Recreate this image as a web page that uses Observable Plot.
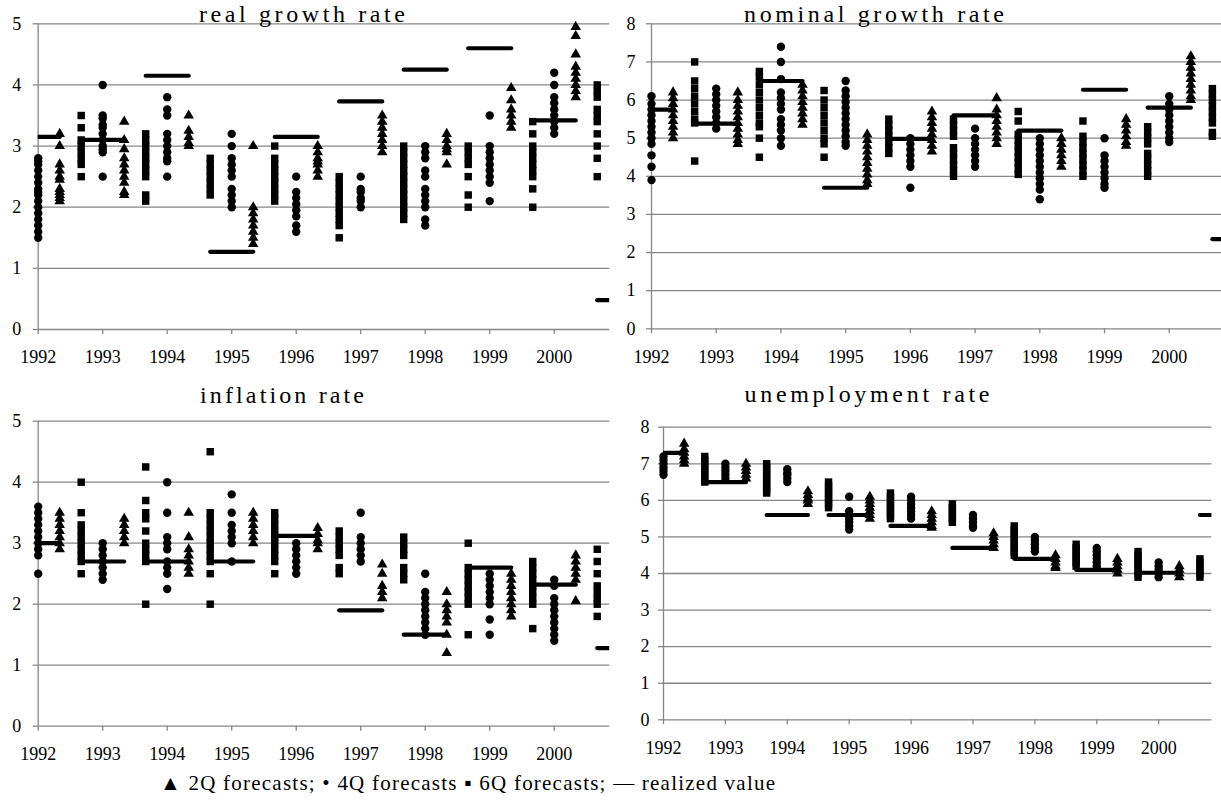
<!DOCTYPE html>
<html><head><meta charset="utf-8">
<script src="https://cdn.jsdelivr.net/npm/d3@7"></script>
<script src="https://cdn.jsdelivr.net/npm/@observablehq/plot@0.6"></script>
<style>
html,body{margin:0;padding:0;background:#fff;overflow:hidden;font-family:'Liberation Serif',serif}
#wrap{position:relative;width:1221px;height:800px;overflow:hidden;background:#fff}
.panel{position:absolute}
#overlay{position:absolute;left:0;top:0;pointer-events:none}
svg text{font-family:'Liberation Serif',serif !important}
</style></head>
<body><div id="wrap"></div>
<script>
// ---------------- DATA ----------------
const targetYears = [1992, 1993, 1994, 1995, 1996, 1997, 1998, 1999, 2000, 2001];
const tickYears = [1992, 1993, 1994, 1995, 1996, 1997, 1998, 1999, 2000];
const legendText = "▲ 2Q forecasts; • 4Q forecasts ▪ 6Q forecasts; — realized value";

// real growth rate
const real6Q = [[],
  [3.5, 3.3, 3.1, 3.0, 2.9, 2.8, 2.7, 2.5],
  [3.2, 3.1, 3.0, 2.9, 2.8, 2.7, 2.6, 2.5, 2.2, 2.1],
  [2.8, 2.7, 2.6, 2.5, 2.4, 2.3, 2.2],
  [3.0, 2.8, 2.7, 2.6, 2.5, 2.4, 2.3, 2.2, 2.1],
  [2.5, 2.4, 2.3, 2.2, 2.1, 2.0, 1.9, 1.8, 1.7, 1.5],
  [3.0, 2.9, 2.8, 2.7, 2.6, 2.5, 2.4, 2.3, 2.2, 2.1, 2.0, 1.9, 1.8],
  [3.0, 2.9, 2.8, 2.7, 2.5, 2.2, 2.0],
  [3.4, 3.2, 3.0, 2.9, 2.8, 2.7, 2.6, 2.5, 2.3, 2.0],
  [4.0, 3.9, 3.8, 3.6, 3.5, 3.4, 3.2, 3.0, 2.8, 2.5]];
const real4Q = [
  [2.8, 2.75, 2.7, 2.6, 2.5, 2.4, 2.3, 2.25, 2.2, 2.1, 2.0, 1.9, 1.8, 1.7, 1.6, 1.5],
  [4.0, 3.5, 3.45, 3.35, 3.3, 3.2, 3.1, 3.0, 2.95, 2.9, 2.5],
  [3.8, 3.6, 3.5, 3.2, 3.1, 3.0, 2.9, 2.8, 2.75, 2.5],
  [3.2, 3.0, 2.8, 2.7, 2.6, 2.5, 2.3, 2.2, 2.1, 2.0],
  [2.5, 2.25, 2.15, 2.05, 1.95, 1.85, 1.7, 1.6],
  [2.5, 2.3, 2.25, 2.15, 2.1, 2.0],
  [3.0, 2.9, 2.8, 2.6, 2.5, 2.3, 2.2, 2.1, 2.0, 1.8, 1.7],
  [3.5, 3.0, 2.9, 2.8, 2.7, 2.6, 2.5, 2.4, 2.1],
  [4.2, 4.0, 3.8, 3.7, 3.6, 3.5, 3.4, 3.3, 3.2],
  []];
const real2Q = [
  [3.2, 3.0, 2.7, 2.6, 2.5, 2.45, 2.3, 2.25, 2.2, 2.15, 2.1],
  [3.4, 3.1, 2.95, 2.8, 2.7, 2.6, 2.5, 2.4, 2.25, 2.2],
  [3.5, 3.25, 3.15, 3.05, 3.0],
  [3.0, 2.0, 1.9, 1.8, 1.7, 1.6, 1.5, 1.4],
  [3.0, 2.9, 2.8, 2.75, 2.7, 2.6, 2.5],
  [3.5, 3.4, 3.3, 3.2, 3.1, 3.0, 2.9],
  [3.2, 3.1, 3.0, 2.95, 2.9, 2.7],
  [3.95, 3.75, 3.6, 3.5, 3.4, 3.3],
  [4.95, 4.8, 4.5, 4.3, 4.2, 4.1, 4.0, 3.9, 3.8],
  []];
const realRealized = [3.15, 3.1, 4.15, 1.27, 3.15, 3.73, 4.25, 4.6, 3.42, 0.48];

// nominal growth rate
const nom6Q = [[],
  [7.0, 6.5, 6.3, 6.1, 5.9, 5.7, 5.5, 5.4, 4.4],
  [6.75, 6.6, 6.4, 6.2, 6.0, 5.8, 5.6, 5.4, 5.3, 5.0, 4.5],
  [6.25, 6.0, 5.8, 5.6, 5.4, 5.2, 5.0, 4.85, 4.5],
  [5.5, 5.35, 5.2, 5.05, 4.9, 4.75, 4.6],
  [5.5, 5.35, 5.2, 5.05, 4.75, 4.6, 4.45, 4.3, 4.15, 4.0],
  [5.7, 5.45, 5.1, 4.95, 4.8, 4.65, 4.5, 4.35, 4.2, 4.05],
  [5.45, 5.05, 4.9, 4.75, 4.6, 4.45, 4.3, 4.15, 4.0],
  [5.3, 5.15, 5.0, 4.85, 4.6, 4.45, 4.3, 4.15, 4.0],
  [6.3, 6.15, 6.0, 5.85, 5.7, 5.55, 5.4, 5.15, 5.05]];
const nom4Q = [
  [6.1, 5.9, 5.75, 5.6, 5.45, 5.3, 5.15, 5.0, 4.85, 4.55, 4.25, 3.9],
  [6.3, 6.15, 6.0, 5.85, 5.7, 5.55, 5.4, 5.25],
  [7.4, 7.0, 6.55, 6.2, 6.05, 5.9, 5.75, 5.5, 5.35, 5.2, 5.0, 4.8],
  [6.5, 6.25, 6.1, 5.95, 5.8, 5.65, 5.5, 5.35, 5.2, 5.05, 4.9, 4.8],
  [5.0, 4.85, 4.7, 4.55, 4.4, 4.25, 3.7],
  [5.25, 5.0, 4.85, 4.7, 4.55, 4.4, 4.25],
  [5.0, 4.85, 4.7, 4.55, 4.4, 4.25, 4.1, 3.95, 3.8, 3.65, 3.4],
  [5.0, 4.55, 4.4, 4.25, 4.1, 3.95, 3.8, 3.7],
  [6.1, 5.9, 5.75, 5.6, 5.45, 5.3, 5.15, 5.0, 4.9],
  []];
const nom2Q = [
  [6.2, 6.05, 5.9, 5.75, 5.6, 5.45, 5.3, 5.15, 5.0],
  [6.2, 6.0, 5.85, 5.7, 5.55, 5.4, 5.25, 5.1, 4.95, 4.85],
  [6.4, 6.25, 6.1, 5.95, 5.8, 5.65, 5.5, 5.35],
  [5.1, 4.95, 4.8, 4.65, 4.5, 4.35, 4.2, 4.05, 3.9, 3.8],
  [5.7, 5.55, 5.4, 5.25, 5.1, 4.95, 4.8, 4.65],
  [6.05, 5.75, 5.6, 5.45, 5.3, 5.15, 5.0, 4.85],
  [5.0, 4.85, 4.7, 4.55, 4.4, 4.25],
  [5.5, 5.35, 5.2, 5.05, 4.9, 4.8],
  [7.15, 7.0, 6.85, 6.7, 6.55, 6.4, 6.25, 6.1, 6.0],
  []];
const nomRealized = [5.75, 5.38, 6.5, 3.7, 4.98, 5.6, 5.2, 6.27, 5.8, 2.35];

// inflation rate
const inf6Q = [[],
  [4.0, 3.5, 3.3, 3.2, 3.1, 3.0, 2.9, 2.8, 2.7, 2.5],
  [4.25, 3.7, 3.5, 3.4, 3.2, 3.0, 2.9, 2.8, 2.7, 2.0],
  [4.5, 3.5, 3.4, 3.3, 3.2, 3.1, 3.0, 2.9, 2.8, 2.7, 2.5, 2.0],
  [3.5, 3.4, 3.3, 3.2, 3.1, 3.0, 2.9, 2.8, 2.7, 2.5],
  [3.2, 3.1, 3.0, 2.9, 2.8, 2.6, 2.5],
  [3.1, 3.0, 2.9, 2.8, 2.6, 2.5, 2.4],
  [3.0, 2.6, 2.5, 2.4, 2.3, 2.2, 2.1, 2.0, 1.5],
  [2.7, 2.6, 2.5, 2.4, 2.3, 2.2, 2.1, 2.0, 1.6],
  [2.9, 2.7, 2.5, 2.3, 2.2, 2.1, 2.0, 1.8]];
const inf4Q = [
  [3.6, 3.5, 3.4, 3.3, 3.2, 3.1, 3.0, 2.9, 2.8, 2.5],
  [3.0, 2.9, 2.8, 2.7, 2.6, 2.5, 2.4],
  [4.0, 3.5, 3.1, 3.0, 2.9, 2.7, 2.6, 2.5, 2.25],
  [3.8, 3.5, 3.3, 3.2, 3.1, 3.0, 2.7],
  [3.0, 2.9, 2.8, 2.7, 2.6, 2.5],
  [3.5, 3.1, 3.0, 2.9, 2.8, 2.7],
  [2.5, 2.2, 2.1, 2.0, 1.9, 1.8, 1.7, 1.6, 1.5],
  [2.5, 2.4, 2.3, 2.2, 2.1, 2.0, 1.75, 1.5],
  [2.4, 2.3, 2.1, 2.0, 1.9, 1.8, 1.7, 1.6, 1.5, 1.4],
  []];
const inf2Q = [
  [3.5, 3.4, 3.3, 3.2, 3.1, 3.0, 2.9],
  [3.4, 3.3, 3.2, 3.1, 3.0],
  [3.5, 3.1, 2.9, 2.8, 2.7, 2.6, 2.5],
  [3.5, 3.4, 3.3, 3.2, 3.1, 3.0],
  [3.25, 3.15, 3.05, 3.0, 2.9],
  [2.65, 2.5, 2.3, 2.2, 2.1],
  [2.2, 2.0, 1.9, 1.8, 1.7, 1.5, 1.2],
  [2.5, 2.4, 2.3, 2.2, 2.1, 2.0, 1.9, 1.8],
  [2.8, 2.7, 2.6, 2.5, 2.4, 2.05],
  []];
const infRealized = [3.0, 2.7, 2.7, 2.7, 3.12, 1.9, 1.5, 2.6, 2.32, 1.28];

// unemployment rate
const un6Q = [[],
  [7.2, 7.1, 7.0, 6.9, 6.8, 6.7, 6.6, 6.5],
  [7.0, 6.9, 6.8, 6.7, 6.6, 6.5, 6.4, 6.3, 6.2],
  [6.5, 6.4, 6.3, 6.2, 6.1, 6.0, 5.9, 5.8],
  [6.2, 6.1, 6.0, 5.9, 5.8, 5.7, 5.6, 5.5],
  [5.9, 5.8, 5.7, 5.6, 5.5, 5.4],
  [5.3, 5.2, 5.1, 5.0, 4.9, 4.8, 4.7, 4.6, 4.5],
  [4.8, 4.7, 4.6, 4.5, 4.4, 4.3, 4.2],
  [4.6, 4.5, 4.4, 4.3, 4.2, 4.1, 4.0, 3.9],
  [4.4, 4.3, 4.2, 4.1, 4.0, 3.9]];
const un4Q = [
  [7.2, 7.1, 7.0, 6.9, 6.8, 6.7],
  [7.0, 6.9, 6.8, 6.7, 6.6],
  [6.85, 6.75, 6.7, 6.6, 6.5],
  [6.1, 5.7, 5.6, 5.5, 5.4, 5.3, 5.2],
  [6.1, 6.0, 5.9, 5.8, 5.7, 5.6, 5.5],
  [5.6, 5.5, 5.4, 5.3, 5.25],
  [5.0, 4.9, 4.8, 4.7, 4.6],
  [4.7, 4.6, 4.5, 4.4, 4.3, 4.2],
  [4.3, 4.2, 4.1, 4.0, 3.9],
  []];
const un2Q = [
  [7.55, 7.4, 7.3, 7.2, 7.1, 7.0],
  [7.0, 6.9, 6.8, 6.7, 6.6],
  [6.25, 6.15, 6.05, 6.0, 5.9],
  [6.1, 6.0, 5.9, 5.8, 5.7, 5.6, 5.5],
  [5.7, 5.6, 5.5, 5.4, 5.3, 5.25],
  [5.1, 5.0, 4.9, 4.8, 4.7],
  [4.5, 4.4, 4.3, 4.2, 4.15],
  [4.4, 4.3, 4.2, 4.1, 4.0],
  [4.2, 4.1, 4.0, 3.9],
  []];
const unRealized = [7.3, 6.5, 5.6, 5.6, 5.3, 4.7, 4.4, 4.1, 4.02, 5.6];

// ---------------- LAYOUT ----------------
const FONT = "Liberation Serif";
const GRID = "#868686";
const X_MAX = 2000.86;
const OFF = 1 / 3; // 6Q forecasts sit a third of a year before, 2Q a third after
const panels = [
  {title: "real growth rate", six: real6Q, four: real4Q, two: real2Q, realized: realRealized, yMax: 5,
   left: 0, top: 0, width: 610, height: 380, mL: 37.7, mR: 0.8, mT: 23.3, mB: 51, pad: 12,
   tx: 302, ty: 21.5, tw: 206},
  {title: "nominal growth rate", six: nom6Q, four: nom4Q, two: nom2Q, realized: nomRealized, yMax: 8,
   left: 610, top: 0, width: 615, height: 380, mL: 41, mR: 0.6, mT: 23.3, mB: 51.7, pad: 11,
   tx: 874, ty: 21.5, tw: 260},
  {title: "inflation rate", six: inf6Q, four: inf4Q, two: inf2Q, realized: infRealized, yMax: 5,
   left: 0, top: 380, width: 610, height: 400, mL: 37.7, mR: 0.8, mT: 40.7, mB: 54.3, pad: 12,
   tx: 282, ty: 403, tw: 164},
  {title: "unemployment rate", six: un6Q, four: un4Q, two: un2Q, realized: unRealized, yMax: 8,
   left: 610, top: 380, width: 611, height: 400, mL: 53, mR: 9.6, mT: 46.7, mB: 60.7, pad: 9,
   tx: 867, ty: 402, tw: 245}
];

function points(groups, offset) {
  return groups.flatMap((vals, i) => vals.map(v => ({x: targetYears[i] + offset, y: v})));
}

const wrap = document.getElementById("wrap");
for (const p of panels) {
  const yTicks = d3.range(0, p.yMax + 1);
  const realizedSegs = p.realized.map((v, i) => ({x1: targetYears[i] - OFF, x2: targetYears[i] + OFF, y: v}));
  const svg = Plot.plot({
    width: p.width, height: p.height,
    marginLeft: p.mL, marginRight: p.mR, marginTop: p.mT, marginBottom: p.mB,
    x: {type: "linear", domain: [1992, X_MAX], label: null},
    y: {type: "linear", domain: [0, p.yMax], label: null},
    style: {fontFamily: FONT, fontSize: "18px", color: "black", background: "transparent", overflow: "visible", maxWidth: "none"},
    marks: [
      Plot.gridY({ticks: yTicks, stroke: GRID, strokeOpacity: 1, strokeWidth: 1.3}),
      Plot.ruleX([1992], {stroke: GRID, strokeWidth: 1.3}),
      Plot.axisY({ticks: yTicks, tickSize: 5, tickPadding: p.pad, stroke: GRID, strokeWidth: 1.3, fill: "black", fontFamily: FONT, tickFormat: d => String(d), label: null}),
      Plot.axisX({ticks: tickYears, tickSize: 5, tickPadding: 16, stroke: GRID, strokeWidth: 1.3, fill: "black", fontFamily: FONT, tickFormat: d => String(d), label: null}),
      Plot.dot(points(p.six, -OFF), {x: "x", y: "y", symbol: "square", r: 4.2, fill: "black", stroke: null}),
      Plot.dot(points(p.four, 0), {x: "x", y: "y", symbol: "circle", r: 4.2, fill: "black", stroke: null}),
      Plot.dot(points(p.two, OFF), {x: "x", y: "y", symbol: "triangle", r: 3.9, fill: "black", stroke: null}),
      Plot.link(realizedSegs, {x1: "x1", x2: "x2", y1: "y", y2: "y", stroke: "black", strokeWidth: 4.2, strokeLinecap: "round", clip: true})
    ]
  });
  svg.style.maxWidth = "none";
  svg.setAttribute("font-family", FONT);
  svg.querySelectorAll("g, text").forEach(t => { t.setAttribute("font-family", FONT); t.style.fontFamily = "'Liberation Serif', serif"; });
  const div = document.createElement("div");
  div.className = "panel";
  div.style.left = p.left + "px";
  div.style.top = p.top + "px";
  div.style.width = p.width + "px";
  div.style.height = p.height + "px";
  div.appendChild(svg);
  wrap.appendChild(div);
}

// titles and legend as text overlay
const ns = "http://www.w3.org/2000/svg";
const ov = document.createElementNS(ns, "svg");
ov.setAttribute("id", "overlay");
ov.setAttribute("width", 1221);
ov.setAttribute("height", 800);
ov.setAttribute("font-family", FONT);
function addText(str, x, y, size, anchor, len) {
  const t = document.createElementNS(ns, "text");
  t.textContent = str;
  t.setAttribute("x", x);
  t.setAttribute("y", y);
  t.setAttribute("font-family", FONT);
  t.style.fontFamily = "'Liberation Serif', serif";
  t.setAttribute("font-size", size);
  t.setAttribute("text-anchor", anchor);
  t.setAttribute("fill", "black");
  if (len) { t.setAttribute("textLength", len); t.setAttribute("lengthAdjust", "spacing"); }
  ov.appendChild(t);
}
for (const p of panels) addText(p.title, p.tx, p.ty, 24, "middle", p.tw);
addText(legendText, 160, 790, 21, "start", 615);
wrap.appendChild(ov);
</script>
</body></html>
